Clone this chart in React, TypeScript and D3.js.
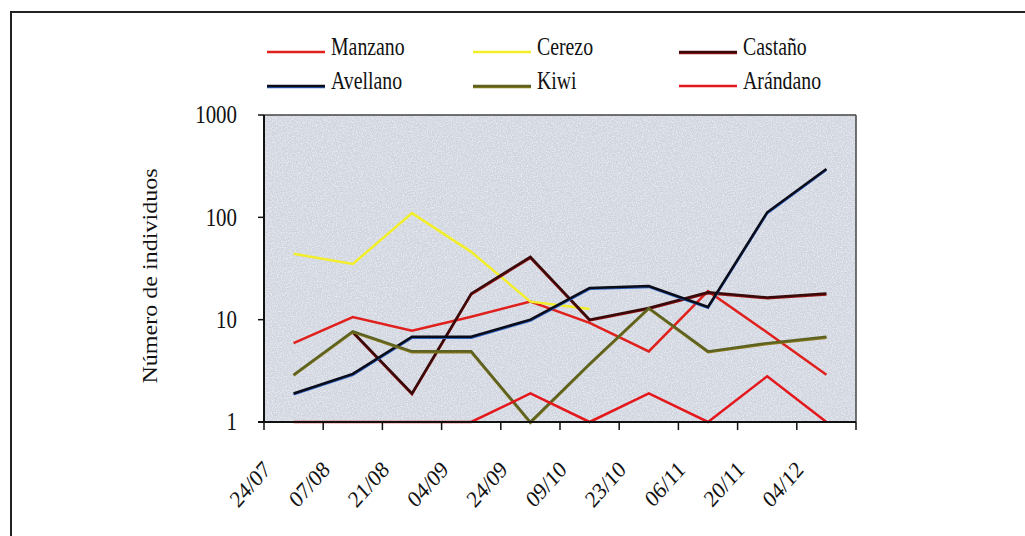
import React from "react";
import * as d3 from "d3";

const dates = ["24/07", "07/08", "21/08", "04/09", "24/09", "09/10", "23/10", "06/11", "20/11", "04/12"];
const manzano: (number | null)[] = [5.9, 10.6, 7.8, 10.7, 15, 9.3, 4.9, 19, 7.5, 2.9];
const cerezo: (number | null)[] = [44, 35, 110, 46, 15, 12.7, null, null, null, null];
const castano: (number | null)[] = [null, 7.6, 1.9, 18, 41, 10, 13, 18.5, 16.5, 18];
const avellano: (number | null)[] = [1.9, 2.95, 6.8, 6.8, 10, 20.4, 21.3, 13.3, 112, 297];
const kiwi: (number | null)[] = [2.9, 7.7, 4.9, 4.9, 1, 3.7, 13, 4.9, 5.9, 6.8];
const arandano: (number | null)[] = [1, 1, 1, 1, 1.9, 1, 1.9, 1, 2.8, 1];
const yTicks = [1, 10, 100, 1000];

const series = [
  { name: "Manzano", values: manzano, color: "#e0201c", under: null as string | null },
  { name: "Cerezo", values: cerezo, color: "#f2ef2a", under: null },
  { name: "Castaño", values: castano, color: "#3a0a0a", under: "#9a1414" },
  { name: "Avellano", values: avellano, color: "#0a0c18", under: "#2a5fc0" },
  { name: "Kiwi", values: kiwi, color: "#5e6220", under: "#8c7a1c" },
  { name: "Arándano", values: arandano, color: "#e4181c", under: null },
];

const W = 1025, H = 536;
const L = 264, R = 856, T = 115, B = 422;
const FONT = "'Liberation Serif', 'Times New Roman', serif";

export default function App() {
  const x = d3.scaleBand<string>().domain(dates).range([L, R]);
  const y = d3.scaleLog().domain([1, 1000]).range([B, T]);
  const line = d3
    .line<number | null>()
    .defined((d) => d != null)
    .x((_, i) => (x(dates[i]) as number) + x.bandwidth() / 2)
    .y((d) => y(d as number));

  const tickXs = [...dates.map((d) => x(d) as number), R];

  const legendCols = [267, 473, 679];
  const legendRows = [52, 86];

  return (
    <svg width={W} height={H} style={{ position: "absolute", left: 0, top: 0, background: "#fff" }}>
      <defs>
        <filter id="noise" x="0" y="0" width="100%" height="100%">
          <feTurbulence type="fractalNoise" baseFrequency="0.8" numOctaves="2" seed="3" result="n" />
          <feColorMatrix type="matrix" values="0 0 0 0 1  0 0 0 0 1  0 0 0 0 1  0 0 0 1.2 -0.45" in="n" result="w" />
          <feComposite in="w" in2="SourceGraphic" operator="in" result="wc" />
          <feMerge>
            <feMergeNode in="SourceGraphic" />
            <feMergeNode in="wc" />
          </feMerge>
        </filter>
      </defs>
      {/* frame */}
      <line x1={10} y1={12} x2={W} y2={12} stroke="#222" strokeWidth={2} />
      <line x1={11} y1={11} x2={11} y2={H} stroke="#222" strokeWidth={2} />

      {/* plot background */}
      <rect x={L} y={T} width={R - L} height={B - T} fill="#cfd4df" filter="url(#noise)" />
      <line x1={L} y1={T} x2={R} y2={T} stroke="#444" strokeWidth={1.5} />
      <line x1={R} y1={T} x2={R} y2={B} stroke="#444" strokeWidth={1.5} />

      {/* series */}
      {series.map((s) => (
        <g key={s.name}>
          {s.under && (
            <path d={line(s.values) || ""} fill="none" stroke={s.under} strokeWidth={2.4} transform="translate(0,0.9)" />
          )}
          <path d={line(s.values) || ""} fill="none" stroke={s.color} strokeWidth={2.5} />
        </g>
      ))}

      {/* axes */}
      <line x1={L} y1={T} x2={L} y2={B + 1} stroke="#111" strokeWidth={2} />
      <line x1={L - 6} y1={B} x2={R} y2={B} stroke="#111" strokeWidth={2} />
      {yTicks.map((t) => (
        <g key={t}>
          <line x1={L - 6} x2={L} y1={y(t)} y2={y(t)} stroke="#111" strokeWidth={1.5} />
          <text transform={`translate(237,${y(t)}) scale(0.95,1.1)`} dy="0.35em" textAnchor="end" fontFamily={FONT} fontSize={22} fill="#111">
            {t}
          </text>
        </g>
      ))}
      {tickXs.map((tx, i) => (
        <line key={i} x1={tx} x2={tx} y1={B} y2={B + 8} stroke="#111" strokeWidth={1.5} />
      ))}
      {dates.map((d) => (
        <text
          key={d}
          transform={`translate(${(x(d) as number) + 8},${471}) scale(1,1.12) rotate(-45)`}
          textAnchor="end"
          fontFamily={FONT}
          fontSize={21}
          fill="#111"
        >
          {d}
        </text>
      ))}
      <text
        transform={`translate(${157},${276}) scale(1,1.12) rotate(-90)`}
        textAnchor="middle"
        fontFamily={FONT}
        fontSize={21.5}
        fill="#111"
      >
        Número de individuos
      </text>

      {/* legend */}
      {series.map((s, i) => {
        const cx = legendCols[i % 3];
        const cy = legendRows[Math.floor(i / 3)];
        return (
          <g key={s.name}>
            {s.under && <line x1={cx} x2={cx + 58} y1={cy + 1} y2={cy + 1} stroke={s.under} strokeWidth={2.4} />}
            <line x1={cx} x2={cx + 58} y1={cy} y2={cy} stroke={s.color} strokeWidth={2.5} />
            <text transform={`translate(${cx + 64},${cy + 3}) scale(0.9,1.15)`} fontFamily={FONT} fontSize={22} fill="#111">
              {s.name}
            </text>
          </g>
        );
      })}
    </svg>
  );
}
